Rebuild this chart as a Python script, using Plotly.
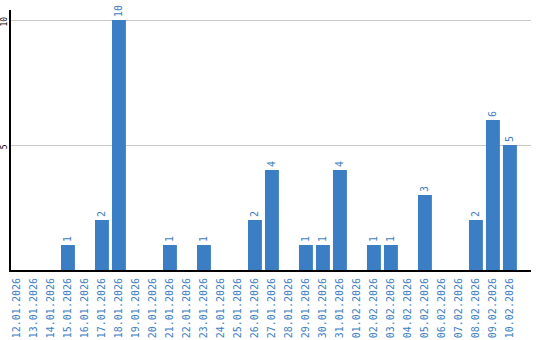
import plotly.graph_objects as go

dates = ["12.01.2026","13.01.2026","14.01.2026","15.01.2026","16.01.2026","17.01.2026",
         "18.01.2026","19.01.2026","20.01.2026","21.01.2026","22.01.2026","23.01.2026",
         "24.01.2026","25.01.2026","26.01.2026","27.01.2026","28.01.2026","29.01.2026",
         "30.01.2026","31.01.2026","01.02.2026","02.02.2026","03.02.2026","04.02.2026",
         "05.02.2026","06.02.2026","07.02.2026","08.02.2026","09.02.2026","10.02.2026"]
counts = [0,0,0,1,0,2,10,0,0,1,0,1,0,0,2,4,0,1,1,4,0,1,1,0,3,0,0,2,6,5]
y_ticks = [5, 10]

BLUE = "#3b7ec3"
labels = [str(v) if v else "" for v in counts]

fig = go.Figure(go.Bar(
    x=list(range(len(dates))), y=counts, text=labels,
    textposition="outside", textangle=-90, cliponaxis=False,
    textfont=dict(family="DejaVu Sans Mono", size=10, color=BLUE),
    marker=dict(color=BLUE, line=dict(width=0)),
))
fig.update_layout(
    width=540, height=340, margin=dict(l=11, r=9, t=10, b=70),
    plot_bgcolor="white", paper_bgcolor="white", bargap=0.18,
    showlegend=False,
)
fig.update_xaxes(
    tickmode="array", tickvals=list(range(len(dates))), ticktext=dates,
    tickangle=-90, range=[-0.35, 30.24], showgrid=False, automargin=False,
    showline=True, linecolor="black", linewidth=2,
    tickfont=dict(family="DejaVu Sans Mono", size=10, color=BLUE),
    ticks="", ticklabelstandoff=2,
)
fig.update_yaxes(
    range=[0, 10.4], tickmode="array", tickvals=y_ticks, ticktext=[str(t) for t in y_ticks],
    tickangle=-90, showgrid=True, gridcolor="#c8c8c8", gridwidth=1, automargin=False,
    showline=True, linecolor="black", linewidth=1.5, zeroline=False,
    tickfont=dict(family="DejaVu Sans Mono", size=8, color="black"), ticks="",
    ticklabelstandoff=-1, ticklabelshift=3,
)
fig.write_html("out.html")
